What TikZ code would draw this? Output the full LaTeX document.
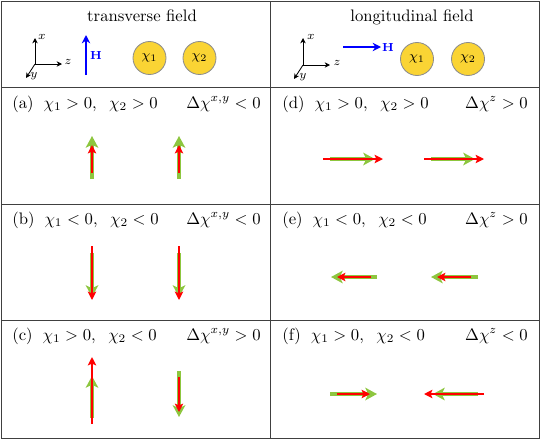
\documentclass[tikz,border=0pt]{standalone}
\usetikzlibrary{arrows.meta}
\definecolor{grn}{RGB}{141,198,63}
\definecolor{gold}{RGB}{250,212,52}
\begin{document}
\begin{tikzpicture}[x=0.6pt,y=-0.6pt,
  frame/.style={draw=black!75, line width=0.6pt},
  gvec/.style={grn, line width=2.4pt, -{Stealth[length=7pt,width=7.5pt,inset=1.8pt]}},
  rvec/.style={red, line width=1.4pt, -{Stealth[length=5pt,width=5pt,inset=1pt]}},
  ax/.style={black, line width=0.5pt, -{Stealth[length=3.2pt,width=3.2pt]}},
  lab/.style={font=\scriptsize, inner sep=0pt},
  hvec/.style={blue, line width=1.3pt, -{Stealth[length=5pt,width=5pt]}},
  hlab/.style={blue, font=\scriptsize, inner sep=0pt},
  circ/.style={circle, fill=gold, draw=black!45, line width=0.5pt, minimum size=19.8pt, inner sep=0pt, font=\footnotesize},
  rowl/.style={anchor=base west, inner sep=0pt},
  rowr/.style={anchor=base east, inner sep=0pt}
]
\useasboundingbox (0,0) rectangle (540,439);
% frame
\draw[frame] (1,1) rectangle (539,438);
\draw[frame] (270,1) -- (270,438);
\draw[frame] (1,87) -- (539,87);
\draw[frame] (1,204) -- (539,204);
\draw[frame] (1,320) -- (539,320);
% headers
\node[anchor=base] (t1) at (142,21) {transverse field};
\node[anchor=base] (t2) at (412,21) {longitudinal field};
% left axes
\coordinate (o1) at (35,64);
\coordinate (x1) at (35,38);
\coordinate (z1) at (62,64);
\coordinate (y1) at (26,78);
\draw[ax] (o1) -- (x1);
\draw[ax] (o1) -- (z1);
\draw[ax] (o1) -- (y1);
\node[lab] (lx1) at (42,37) {$x$};
\node[lab] (lz1) at (68,62) {$z$};
\node[lab] (ly1) at (34,76) {$y$};
\coordinate (h1a) at (86,75);
\coordinate (h1b) at (86,35);
\draw[hvec] (h1a) -- (h1b);
\node[hlab] (H1) at (96,55) {$\mathbf{H}$};
\node[circ] (c11) at (149.5,58) {$\chi_1$};
\node[circ] (c12) at (199.5,58) {$\chi_2$};
% right axes
\coordinate (o2) at (303,65);
\coordinate (x2) at (303,38);
\coordinate (z2) at (330,65);
\coordinate (y2) at (294,79);
\draw[ax] (o2) -- (x2);
\draw[ax] (o2) -- (z2);
\draw[ax] (o2) -- (y2);
\node[lab] (lx2) at (311,37) {$x$};
\node[lab] (lz2) at (337,63) {$z$};
\node[lab] (ly2) at (303,77) {$y$};
\coordinate (h2a) at (343,47);
\coordinate (h2b) at (381,47);
\draw[hvec] (h2a) -- (h2b);
\node[hlab] (H2) at (388,47) {$\mathbf{H}$};
\node[circ] (c21) at (417,59) {$\chi_1$};
\node[circ] (c22) at (468,59) {$\chi_2$};
% row labels
\node[rowl] (la) at (12,108) {(a)\hspace{6pt}$\chi_1>0,$\hspace{7.5pt}$\chi_2>0$};
\node[rowr] (ra) at (261,108) {$\Delta\chi^{x,y}<0$};
\node[rowl] (lb) at (12,224) {(b)\hspace{6pt}$\chi_1<0,$\hspace{7.5pt}$\chi_2<0$};
\node[rowr] (rb) at (261,224) {$\Delta\chi^{x,y}<0$};
\node[rowl] (lc) at (12,340) {(c)\hspace{6pt}$\chi_1>0,$\hspace{7.5pt}$\chi_2<0$};
\node[rowr] (rc) at (261,340) {$\Delta\chi^{x,y}>0$};
\node[rowl] (ld) at (282,108) {(d)\hspace{6pt}$\chi_1>0,$\hspace{7.5pt}$\chi_2>0$};
\node[rowr] (rd) at (528,108) {$\Delta\chi^{z}>0$};
\node[rowl] (le) at (282,224) {(e)\hspace{6pt}$\chi_1<0,$\hspace{7.5pt}$\chi_2<0$};
\node[rowr] (re) at (528,224) {$\Delta\chi^{z}>0$};
\node[rowl] (lf) at (282,340) {(f)\hspace{6pt}$\chi_1>0,$\hspace{7.5pt}$\chi_2<0$};
\node[rowr] (rf) at (528,340) {$\Delta\chi^{z}<0$};
% row a
\draw[gvec] (92,179) -- (92,136);
\draw[rvec] (92,173) -- (92,145);
\draw[gvec] (179,179) -- (179,136);
\draw[rvec] (179,173) -- (179,145);
% row b
\draw[gvec] (92,253) -- (92,297);
\draw[rvec] (92,246) -- (92,300);
\draw[gvec] (179,253) -- (179,297);
\draw[rvec] (179,246) -- (179,300);
% row c
\draw[gvec] (92,418) -- (92,376);
\draw[rvec] (92,424) -- (92,357);
\draw[gvec] (179,371) -- (179,417);
\draw[rvec] (179,377) -- (179,412);
% row d
\draw[gvec] (330,159) -- (375,159);
\draw[rvec] (323,159) -- (383,159);
\draw[gvec] (431,159) -- (475,159);
\draw[rvec] (424,159) -- (484,159);
% row e
\draw[gvec] (377,277) -- (331,277);
\draw[rvec] (371,277) -- (337,277);
\draw[gvec] (478,277) -- (431,277);
\draw[rvec] (471,277) -- (437,277);
% row f
\draw[gvec] (330,394) -- (377,394);
\draw[rvec] (337,394) -- (370,394);
\draw[gvec] (478,394) -- (433,394);
\draw[rvec] (484,394) -- (424,394);
\end{tikzpicture}
\end{document}
